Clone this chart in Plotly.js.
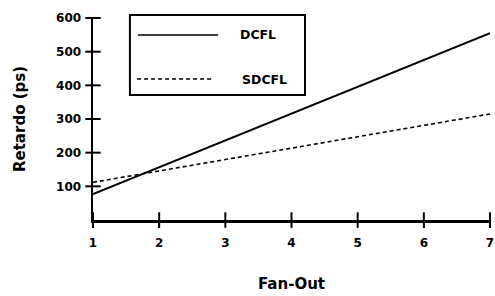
<!DOCTYPE html>
<html><head><meta charset="utf-8">
<script src="https://cdn.plot.ly/plotly-3.0.1.min.js"></script>
<style>html,body{margin:0;padding:0;background:#fff}#c{width:495px;height:296px}</style>
</head><body><div id="c"></div>
<script>
const fanOut = [1, 7];
const dcfl = [77, 555];
const sdcfl = [112, 315];
const yTicks = [100, 200, 300, 400, 500, 600];
const xTicks = [1, 2, 3, 4, 5, 6, 7];
const seriesNames = ['DCFL', 'SDCFL'];

const F = 'DejaVu Sans, Liberation Sans, Arial, sans-serif';
const tickMarker = (sym) => ({symbol: sym, size: 11, color: '#000', line: {color: '#000', width: 2}});
const traces = [
  {type: 'scatter', x: fanOut, y: dcfl, mode: 'lines', name: seriesNames[0], line: {color: '#000', width: 2}, showlegend: false},
  {type: 'scatter', x: fanOut, y: sdcfl, mode: 'lines', name: seriesNames[1], line: {color: '#000', width: 1.6, dash: '4px,3px'}, showlegend: false},
  {type: 'scatter', x: xTicks, y: xTicks.map(() => 0), mode: 'markers', marker: tickMarker('line-ns-open'), cliponaxis: false, showlegend: false},
  {type: 'scatter', x: yTicks.map(() => 1), y: yTicks, mode: 'markers', marker: tickMarker('line-ew-open'), cliponaxis: false, showlegend: false}
];
const axisCommon = {showgrid: false, zeroline: false, showline: true, linecolor: '#000', linewidth: 2.5,
  ticks: 'outside', ticklen: 5, tickwidth: 1.5, tickcolor: '#000',
  tickfont: {family: F, size: 12, color: '#000', weight: 'bold'}};
const layout = {
  width: 495, height: 296,
  margin: {l: 93, r: 5, t: 18, b: 76},
  paper_bgcolor: '#fff', plot_bgcolor: '#fff',
  xaxis: Object.assign({}, axisCommon, {range: [1, 7], tickvals: xTicks, ticktext: xTicks.map(String),
    ticklabelstandoff: 5,
    title: {text: 'Fan-Out', font: {family: F, size: 15, color: '#000', weight: 'bold'}, standoff: 30}}),
  yaxis: Object.assign({}, axisCommon, {range: [0, 600], tickvals: yTicks, ticktext: yTicks.map(String),
    ticklabelstandoff: 2,
    title: {text: 'Retardo (ps)', font: {family: F, size: 15, color: '#000', weight: 'bold'}, standoff: 27}}),
  shapes: [
    {type: 'rect', xref: 'paper', yref: 'paper', x0: 0.093, x1: 0.534, y0: 0.619, y1: 1.015, line: {color: '#000', width: 2}},
    {type: 'line', xref: 'paper', yref: 'paper', x0: 0.113, x1: 0.315, y0: 0.916, y1: 0.916, line: {color: '#000', width: 1.5}},
    {type: 'line', xref: 'paper', yref: 'paper', x0: 0.111, x1: 0.30, y0: 0.698, y1: 0.698, line: {color: '#000', width: 1.5, dash: '4px,3px'}}
  ],
  annotations: [
    {xref: 'paper', yref: 'paper', x: 0.365, y: 0.916, xanchor: 'left', yanchor: 'middle', text: seriesNames[0], showarrow: false,
      font: {family: F, size: 12.5, color: '#000', weight: 'bold'}},
    {xref: 'paper', yref: 'paper', x: 0.37, y: 0.698, xanchor: 'left', yanchor: 'middle', text: seriesNames[1], showarrow: false,
      font: {family: F, size: 12.5, color: '#000', weight: 'bold'}}
  ]
};
Plotly.newPlot('c', traces, layout, {staticPlot: true});
</script></body></html>
